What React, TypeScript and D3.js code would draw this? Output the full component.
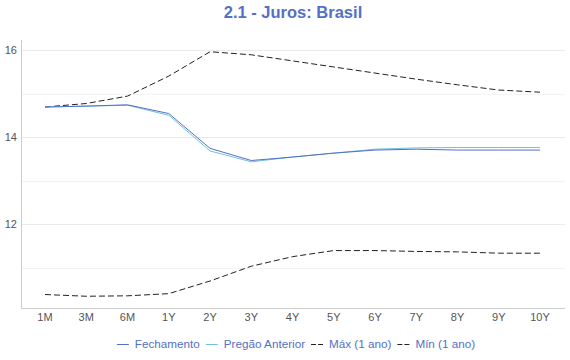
import React, { useRef, useEffect } from 'react';
import * as d3 from 'd3';

const tenors = ['1M', '3M', '6M', '1Y', '2Y', '3Y', '4Y', '5Y', '6Y', '7Y', '8Y', '9Y', '10Y'];
const fechamento = [14.69, 14.71, 14.74, 14.54, 13.74, 13.46, 13.54, 13.63, 13.70, 13.72, 13.70, 13.70, 13.70];
const pregaoAnterior = [14.69, 14.71, 14.73, 14.50, 13.68, 13.43, 13.54, 13.63, 13.72, 13.75, 13.76, 13.76, 13.76];
const maxAno = [14.69, 14.77, 14.94, 15.40, 15.96, 15.89, 15.75, 15.61, 15.47, 15.33, 15.20, 15.08, 15.03];
const minAno = [10.38, 10.34, 10.35, 10.40, 10.69, 11.03, 11.25, 11.39, 11.39, 11.37, 11.36, 11.33, 11.33];
const yTicks = [12, 14, 16];

const series = [
  { name: 'Fechamento', values: fechamento, color: '#5470c6', dash: null },
  { name: 'Pregão Anterior', values: pregaoAnterior, color: '#73c0de', dash: null },
  { name: 'Máx (1 ano)', values: maxAno, color: '#222', dash: '6,3' },
  { name: 'Mín (1 ano)', values: minAno, color: '#222', dash: '6,3' },
];

const App = () => {
  const svgRef = useRef<SVGSVGElement>(null);
  const width = 570;
  const height = 360;
  const font = "'Liberation Sans', Arial, sans-serif";

  useEffect(() => {
    const svg = d3.select(svgRef.current);
    svg.selectAll('*').remove();

    const left = 21, right = 565, top = 40, bottom = 308;
    const x = d3.scalePoint().domain(tenors).range([45, 540]);
    const y = d3.scaleLinear().domain([10.07, 16.23]).range([bottom, top]);

    // grid
    const grid = svg.append('g');
    d3.range(11, 17, 1).forEach(v => {
      grid.append('line')
        .attr('x1', left).attr('x2', right)
        .attr('y1', Math.round(y(v)) + 0.5).attr('y2', Math.round(y(v)) + 0.5)
        .attr('stroke', v % 2 === 0 ? '#ebebeb' : '#f3f3f3')
        .attr('stroke-width', 1);
    });

    // axes
    svg.append('line').attr('x1', left + 0.5).attr('x2', left + 0.5)
      .attr('y1', top).attr('y2', bottom).attr('stroke', '#ccc');
    svg.append('line').attr('x1', left).attr('x2', right)
      .attr('y1', bottom + 0.5).attr('y2', bottom + 0.5).attr('stroke', '#ccc');

    svg.append('g').selectAll('text').data(yTicks).join('text')
      .attr('x', 17).attr('y', d => y(d)).attr('dy', '0.35em')
      .attr('text-anchor', 'end').attr('font-size', 11).attr('fill', '#555')
      .attr('font-family', font).text(d => d);

    svg.append('g').selectAll('text').data(tenors).join('text')
      .attr('x', d => x(d)!).attr('y', 317).attr('dy', '0.35em')
      .attr('text-anchor', 'middle').attr('font-size', 11).attr('fill', '#555')
      .attr('font-family', font).text(d => d);

    // lines
    const line = d3.line<number>().x((d, i) => x(tenors[i])!).y(d => y(d));
    [...series].reverse().forEach(s => {
      svg.append('path')
        .attr('d', line(s.values))
        .attr('fill', 'none')
        .attr('stroke', s.color)
        .attr('stroke-width', 1)
        .attr('stroke-dasharray', s.dash);
    });

    // title, centred over the plot area
    svg.append('text')
      .attr('x', (left + right) / 2).attr('y', 12).attr('dy', '0.35em')
      .attr('text-anchor', 'middle').attr('font-size', 16.5).attr('font-weight', 'bold')
      .attr('fill', '#5470c6').attr('font-family', font)
      .text('2.1 - Juros: Brasil');

    // legend
    const legend = svg.append('g');
    const items = series.map(s => {
      const g = legend.append('g');
      g.append('line').attr('x1', 0).attr('x2', 12).attr('y1', 0.5).attr('y2', 0.5)
        .attr('stroke', s.color).attr('stroke-width', 1)
        .attr('stroke-dasharray', s.dash ? '5,2' : null);
      const t = g.append('text').attr('x', 18).attr('dy', '0.35em')
        .attr('font-size', 11.7).attr('fill', '#5470c6').attr('font-family', font)
        .text(s.name);
      const w = 18 + (t.node() as SVGTextElement).getComputedTextLength();
      return { g, w };
    });
    const gap = 6;
    const total = d3.sum(items, d => d.w) + gap * (items.length - 1);
    let cx = 296 - total / 2;
    items.forEach(it => {
      it.g.attr('transform', `translate(${cx},344)`);
      cx += it.w + gap;
    });
  }, []);

  return <svg ref={svgRef} width={width} height={height}
    style={{ position: 'absolute', left: 0, top: 0, display: 'block' }} />;
};

export default App;
